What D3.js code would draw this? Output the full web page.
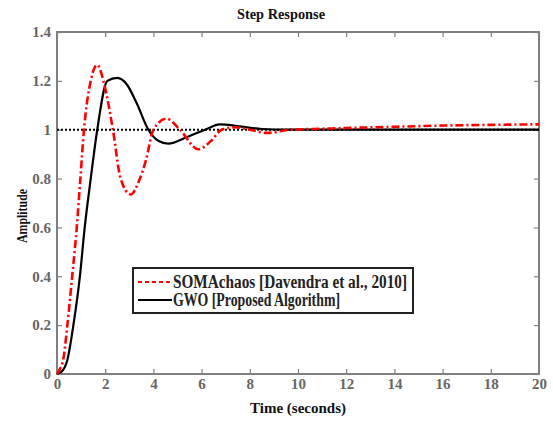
<!DOCTYPE html>
<html>
<head>
<meta charset="utf-8">
<script src="https://cdn.jsdelivr.net/npm/d3@7"></script>
<style>
  body { margin: 0; background: #fff; }
  text { font-family: "Liberation Serif", "Times New Roman", serif; font-weight: bold; }
</style>
</head>
<body>
<div id="chart"></div>
<script>
// Step response of the two tuned controllers.
const somaTime = [0, 0.12, 0.26, 0.43, 0.63, 0.82, 0.97, 1.12, 1.4, 1.67, 1.95, 2.32, 2.64, 3.06, 3.4, 3.69, 4.0, 4.55, 5.1, 5.86, 6.4, 6.83, 7.4, 8.0, 8.7, 9.7, 11, 12, 14, 16, 18, 20];
const somaAmp = [0, 0.02, 0.06, 0.2, 0.4, 0.6, 0.8, 1.0, 1.2, 1.265, 1.19, 1.0, 0.8, 0.735, 0.79, 0.875, 1.0, 1.045, 1.0, 0.92, 0.955, 1.0, 1.01, 1.0, 0.987, 1.0, 1.004, 1.007, 1.012, 1.017, 1.02, 1.022];

const gwoTime = [0, 0.2, 0.43, 0.68, 0.95, 1.15, 1.4, 1.67, 2.09, 2.5, 2.9, 3.3, 3.79, 4.2, 4.62, 5.4, 6.14, 6.76, 7.5, 8.5, 9.5, 11, 20];
const gwoAmp = [0, 0.01, 0.057, 0.2, 0.4, 0.6, 0.8, 1.0, 1.2, 1.212, 1.185, 1.11, 1.0, 0.955, 0.943, 0.97, 1.0, 1.022, 1.015, 1.003, 1.0, 1.0, 1.0];

const xTicks = [0, 2, 4, 6, 8, 10, 12, 14, 16, 18, 20];
const yTicks = [0, 0.2, 0.4, 0.6, 0.8, 1, 1.2, 1.4];
const legendLabels = ["SOMAchaos [Davendra et al., 2010]", "GWO [Proposed Algorithm]"];

const WIDTH = 553, HEIGHT = 421;
const MARGIN = { left: 57, right: 14, top: 32, bottom: 47 };
const INNER_W = WIDTH - MARGIN.left - MARGIN.right;
const INNER_H = HEIGHT - MARGIN.top - MARGIN.bottom;
const AXIS_GREY = "#808080";
const LABEL_GREY = "#666";

const svg = d3.select("#chart").append("svg")
    .attr("width", WIDTH)
    .attr("height", HEIGHT);

const chart = svg.append("g")
    .attr("transform", `translate(${MARGIN.left}, ${MARGIN.top})`);

const xScale = d3.scaleLinear().domain([0, 20]).range([0, INNER_W]);
const yScale = d3.scaleLinear().domain([0, 1.4]).range([INNER_H, 0]);
const fmt = d => String(+d.toFixed(1));

// Inward ticks on all four sides, labels only bottom and left.
const styleAxis = g => {
    g.select(".domain").remove();
    g.selectAll("line").attr("stroke", AXIS_GREY).attr("stroke-width", 1.2);
    g.selectAll("text")
        .attr("fill", LABEL_GREY)
        .style("font-size", "15px")
        .style("font-family", "'Liberation Serif', serif")
        .style("font-weight", "bold");
};

chart.append("g")
    .attr("transform", `translate(0, ${INNER_H})`)
    .call(d3.axisBottom(xScale).tickValues(xTicks).tickFormat(fmt).tickSizeInner(-5).tickSizeOuter(0).tickPadding(4))
    .call(styleAxis);
chart.append("g")
    .call(d3.axisTop(xScale).tickValues(xTicks).tickFormat("").tickSizeInner(-5).tickSizeOuter(0))
    .call(styleAxis);
chart.append("g")
    .call(d3.axisLeft(yScale).tickValues(yTicks).tickFormat(fmt).tickSizeInner(-5).tickSizeOuter(0).tickPadding(6))
    .call(styleAxis);
chart.append("g")
    .attr("transform", `translate(${INNER_W}, 0)`)
    .call(d3.axisRight(yScale).tickValues(yTicks).tickFormat("").tickSizeInner(-5).tickSizeOuter(0))
    .call(styleAxis);

chart.append("rect")
    .attr("width", INNER_W)
    .attr("height", INNER_H)
    .attr("fill", "none")
    .attr("stroke", AXIS_GREY)
    .attr("stroke-width", 2);

// Reference level at amplitude 1.
chart.append("line")
    .attr("x1", xScale(0)).attr("x2", xScale(20))
    .attr("y1", yScale(1)).attr("y2", yScale(1))
    .attr("stroke", "#000")
    .attr("stroke-width", 2)
    .attr("stroke-dasharray", "2,2");

const line = d3.line()
    .x(d => xScale(d[0]))
    .y(d => yScale(d[1]))
    .curve(d3.curveMonotoneX);

chart.append("path")
    .datum(gwoTime.map((t, i) => [t, gwoAmp[i]]))
    .attr("fill", "none")
    .attr("stroke", "#000")
    .attr("stroke-width", 2.2)
    .attr("d", line);

chart.append("path")
    .datum(somaTime.map((t, i) => [t, somaAmp[i]]))
    .attr("fill", "none")
    .attr("stroke", "#ff0000")
    .attr("stroke-width", 2.6)
    .attr("stroke-dasharray", "8,3,2,3")
    .attr("d", line);

// Legend box in the lower middle.
const legend = svg.append("g").attr("transform", "translate(133, 268)");
legend.append("rect")
    .attr("width", 280).attr("height", 45)
    .attr("fill", "#fff")
    .attr("stroke", "#222")
    .attr("stroke-width", 2);

const legendStyles = [
    { stroke: "#ff0000", dash: "4,3", width: 2 },
    { stroke: "#000", dash: null, width: 2.2 }
];
legendLabels.forEach((label, i) => {
    const y = 14 + i * 18;
    legend.append("line")
        .attr("x1", 5).attr("x2", 39)
        .attr("y1", y).attr("y2", y)
        .attr("stroke", legendStyles[i].stroke)
        .attr("stroke-width", legendStyles[i].width)
        .attr("stroke-dasharray", legendStyles[i].dash);
    const t = legend.append("text")
        .attr("x", 40).attr("y", y + 6)
        .style("font-size", "18px")
        .attr("fill", "#222")
        .text(label);
    if (i === 0) t.attr("textLength", 234).attr("lengthAdjust", "spacingAndGlyphs");
    else t.attr("textLength", 167).attr("lengthAdjust", "spacingAndGlyphs");
});

svg.append("text")
    .attr("x", 281).attr("y", 19)
    .attr("text-anchor", "middle")
    .style("font-size", "15px")
    .attr("fill", "#111")
    .attr("textLength", 88).attr("lengthAdjust", "spacingAndGlyphs")
    .text("Step Response");

svg.append("text")
    .attr("x", MARGIN.left + INNER_W / 2).attr("y", 413)
    .attr("text-anchor", "middle")
    .style("font-size", "15px")
    .attr("fill", "#111")
    .text("Time (seconds)");

svg.append("text")
    .attr("transform", "translate(27, 216) rotate(-90)")
    .attr("text-anchor", "middle")
    .style("font-size", "15px")
    .attr("fill", "#111")
    .attr("textLength", 54).attr("lengthAdjust", "spacingAndGlyphs")
    .text("Amplitude");
</script>
</body>
</html>
